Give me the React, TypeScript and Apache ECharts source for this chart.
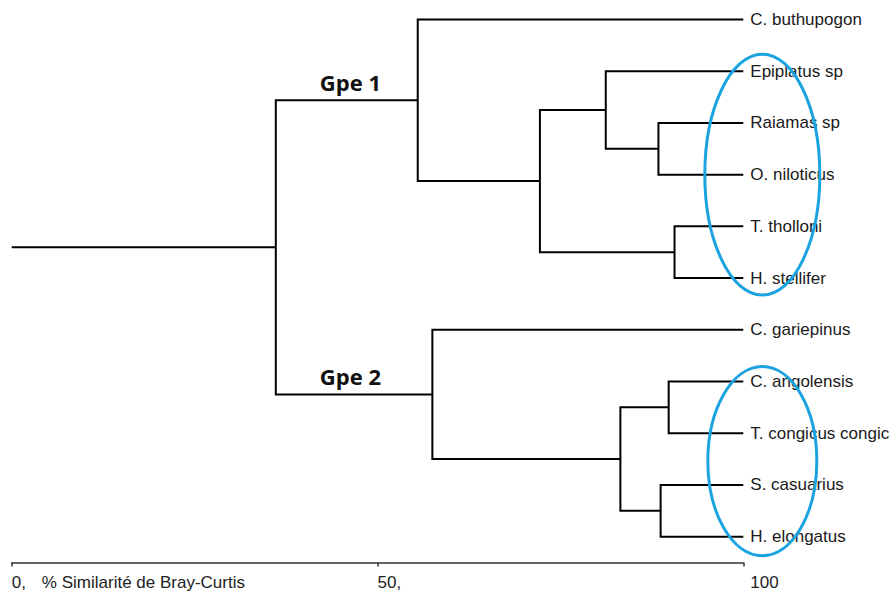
import { useEffect, useRef } from 'react';
import * as echarts from 'echarts';

// ---------- data ----------
const leafNames = [
  'C. buthupogon',
  'Epiplatus sp',
  'Raiamas sp',
  'O. niloticus',
  'T. tholloni',
  'H. stellifer',
  'C. gariepinus',
  'C. angolensis',
  'T. congicus congicus',
  'S. casuarius',
  'H. elongatus',
];
// merges: ids < 11 are leaves, ids >= 11 are earlier merges (in order)
const mergeLeft = [2, 4, 7, 9, 1, 15, 13, 0, 6, 18];
const mergeRight = [3, 5, 8, 10, 11, 12, 14, 16, 17, 19];
const mergeSimilarity = [88.4, 90.6, 89.8, 88.7, 81.2, 72.2, 83.2, 55.5, 57.5, 36.1];
const groupNames = ['Gpe 1', 'Gpe 2'];
const groupNodes = [18, 19];
const xTicks = [0, 50, 100];
const xTickLabels = ['0,', '50,', '100'];
const axisTitle = '% Similarité de Bray-Curtis';
const circledFrom = [1, 7];
const circledTo = [5, 10];

// ---------- layout / style constants ----------
const GROUP_LABEL_X = 46.3;
const ELLIPSE_CX = 102.6;
const ELLIPSE_RX = [57.5, 54.5];
const ELLIPSE_PAD = [17, 17];
const ELLIPSE_DY = [0, 2];
const FONT = '"Liberation Sans", Arial, sans-serif';

// ---------- derived tree geometry ----------
const nodeX: number[] = leafNames.map(() => 100);
const nodeY: number[] = leafNames.map((_, i) => i);
mergeLeft.forEach((l, k) => {
  const r = mergeRight[k];
  nodeX.push(mergeSimilarity[k]);
  nodeY.push((nodeY[l] + nodeY[r]) / 2);
});
const rootId = nodeX.length - 1;
const linkData = mergeLeft.map((l, k) => {
  const r = mergeRight[k];
  return [nodeX[l], nodeY[l], mergeSimilarity[k], nodeY[r], nodeX[r]];
});
linkData.push([0, nodeY[rootId], nodeX[rootId], nodeY[rootId], nodeX[rootId]]);
const groupData = groupNodes.map((n) => [GROUP_LABEL_X, nodeY[n]]);
const ellipseData = circledFrom.map((f, i) => [ELLIPSE_CX, (f + circledTo[i]) / 2, (circledTo[i] - f) / 2]);

export default function App() {
  const ref = useRef<HTMLDivElement>(null);
  useEffect(() => {
    if (!ref.current) return;
    const chart = echarts.init(ref.current, undefined, { renderer: 'svg' });
    chart.setOption({
      animation: false,
      backgroundColor: '#ffffff',
      grid: {
        left: 11.7,
        right: 146.7,
        top: 19.5,
        bottom: 33.5,
        containLabel: false,
        outerBoundsMode: 'none',
      },
      xAxis: {
        type: 'value',
        position: 'bottom',
        min: 0,
        max: 100,
        interval: 50,
        splitLine: { show: false },
        axisLine: { show: true, onZero: false, lineStyle: { color: '#333', width: 1.5 } },
        axisTick: { show: true, length: 4, lineStyle: { color: '#333', width: 1.5 } },
        axisLabel: {
          margin: 11,
          align: 'left',
          color: '#222',
          fontSize: 17,
          fontFamily: FONT,
          formatter: (v: number) => {
            const i = xTicks.indexOf(v);
            if (i < 0) return '';
            if (i === 0) return `{a|${xTickLabels[i]}}{n|${axisTitle}}`;
            if (i === xTicks.length - 1) return `{e|${xTickLabels[i]}}`;
            return `{a|${xTickLabels[i]}}`;
          },
          rich: {
            a: { fontSize: 17, fontFamily: FONT, color: '#222' },
            n: { fontSize: 17, fontFamily: FONT, color: '#222', padding: [0, 0, 0, 16] },
            e: { fontSize: 17, fontFamily: FONT, color: '#222', padding: [0, 0, 0, 7] },
          },
        },
      },
      yAxis: {
        type: 'value',
        inverse: true,
        min: 0,
        max: 10.5,
        interval: 1,
        position: 'right',
        splitLine: { show: false },
        axisLine: { show: false, onZero: false },
        axisTick: { show: false },
        axisLabel: {
          margin: 7,
          align: 'left',
          verticalAlign: 'middle',
          color: '#1a1a1a',
          fontSize: 17,
          fontFamily: FONT,
          formatter: (v: number) => (Number.isInteger(v) && leafNames[v] ? leafNames[v] : ''),
        },
      },
      series: [
        {
          type: 'custom',
          clip: false,
          data: linkData,
          encode: { x: [0, 2, 4], y: [1, 3] },
          renderItem: (_p: any, api: any) => {
            const xl = api.value(0), yl = api.value(1), h = api.value(2), yr = api.value(3), xr = api.value(4);
            const pts = [api.coord([xl, yl]), api.coord([h, yl]), api.coord([h, yr]), api.coord([xr, yr])];
            return {
              type: 'polyline',
              shape: { points: pts },
              style: { stroke: '#000', lineWidth: 2, fill: null },
            };
          },
        },
        {
          type: 'custom',
          clip: false,
          data: groupData,
          encode: { x: 0, y: 1 },
          renderItem: (p: any, api: any) => {
            const c = api.coord([api.value(0), api.value(1)]);
            return {
              type: 'text',
              x: c[0],
              y: c[1] - 18,
              style: {
                text: groupNames[p.dataIndex],
                fill: '#111',
                fontSize: 22,
                fontWeight: 'bold',
                fontFamily: '"Open Sans", "Liberation Sans", sans-serif',
                align: 'center',
                verticalAlign: 'middle',
              },
            };
          },
        },
        {
          type: 'custom',
          clip: false,
          z: 5,
          data: ellipseData,
          encode: { x: 0, y: 1 },
          renderItem: (p: any, api: any) => {
            const i = p.dataIndex;
            const c = api.coord([api.value(0), api.value(1)]);
            const unit = Math.abs(api.size([0, 1])[1]);
            const ry = api.value(2) * unit + ELLIPSE_PAD[i];
            return {
              type: 'ellipse',
              shape: { cx: c[0], cy: c[1] + ELLIPSE_DY[i], rx: ELLIPSE_RX[i], ry },
              style: { fill: 'none', stroke: '#1BA3E0', lineWidth: 3 },
            };
          },
        },
      ],
    });
    return () => chart.dispose();
  }, []);
  return (
    <div
      ref={ref}
      style={{ position: 'absolute', left: 0, top: 0, width: 890, height: 596, background: '#fff' }}
    />
  );
}
